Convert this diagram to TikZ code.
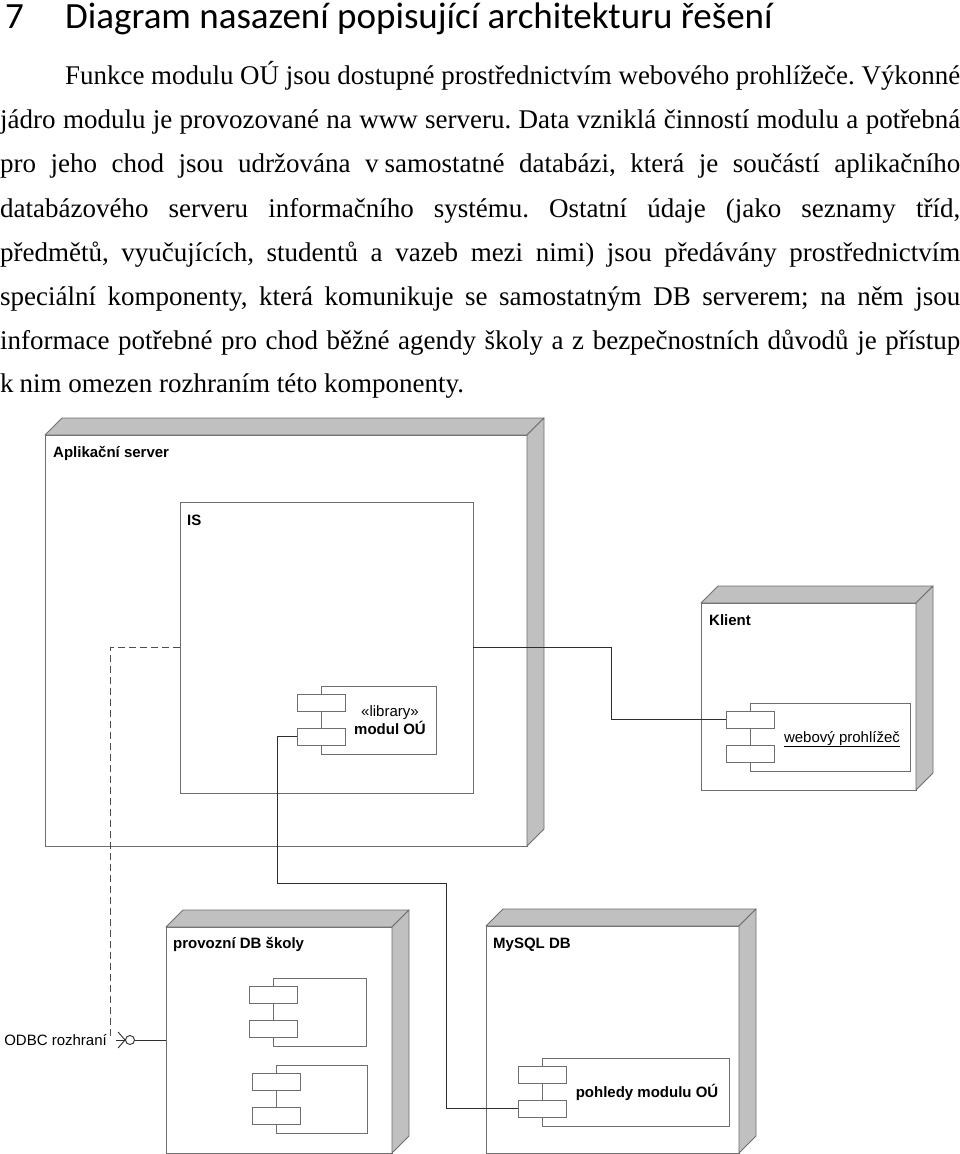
\documentclass[tikz,border=0pt]{standalone}
\usepackage{fontspec}
\usepackage{graphicx}
\setmainfont{Liberation Serif}
\newfontfamily\titlefont{Carlito}
\newfontfamily\diafont{Liberation Sans}
\usetikzlibrary{calc}
\frenchspacing
\definecolor{nodeline}{HTML}{6E6E6E}
\definecolor{sidegray}{HTML}{C0C0C0}
\definecolor{wirecol}{HTML}{2E2E2E}
\newbox\jlbox
\newcommand\jline[2]{%
  \setbox\jlbox=\hbox{#2}%
  \ifdim\wd\jlbox>#1pt\relax
    \pgfmathsetmacro\jlsx{#1/\the\wd\jlbox}%
    \scalebox{\jlsx}[1]{\box\jlbox}%
  \else
    \makebox[#1pt][s]{#2}%
  \fi}
\tikzset{
  box/.style={draw=nodeline, line width=0.9pt, fill=white, inner sep=0pt, outer sep=0pt, anchor=north west},
  cbox/.style={draw=nodeline, line width=0.9pt, fill=white, inner sep=0pt, outer sep=0pt, anchor=north west},
  side/.style={draw=nodeline, line width=0.9pt, fill=sidegray, line join=round},
  wire/.style={draw=wirecol, line width=0.9pt},
  dep/.style={draw=wirecol!85, line width=0.9pt, dash pattern=on 7pt off 4pt},
  nlabel/.style={font=\diafont\fontsize{15}{18}\selectfont\bfseries, anchor=base west, inner sep=0pt},
  clabel/.style={font=\diafont\fontsize{15}{18}\selectfont, anchor=base, inner sep=0pt},
  body/.style={font=\fontsize{27}{32}\selectfont, anchor=base west, inner sep=0pt},
  ttl/.style={font=\titlefont\fontsize{37}{44}\selectfont, anchor=base west, inner sep=0pt},
}
\newcommand\cubenode[5]{%
  \node[box, minimum width=#4pt, minimum height=#5pt] (#1) at (#2,#3) {};
  \path[side] (#1.north west) -- ++(17,-17) -- ($(#1.north east)+(17,-17)$) -- (#1.north east) -- cycle;
  \path[side] (#1.north east) -- ++(17,-17) -- ($(#1.south east)+(17,-17)$) -- (#1.south east) -- cycle;
}
\newcommand\compnode[4]{%
  \node[cbox, minimum width=#4pt, minimum height=68pt] (#1) at (#2,#3) {};
  \node[cbox, minimum width=48pt, minimum height=17pt] (#1-t1) at ($(#2,#3)+(-24,8)$) {};
  \node[cbox, minimum width=48pt, minimum height=17pt] (#1-t2) at ($(#2,#3)+(-24,42)$) {};
}
\begin{document}
\begin{tikzpicture}[x=1pt,y=-1pt]
\useasboundingbox (0,0) rectangle (960,1154);
\fill[white] (0,0) rectangle (960,1154);

% heading
\node[ttl] (num) at (5,28) {7};
\node[ttl] (title) at (65,28) {Diagram nasazení popisující architekturu řešení};

% paragraph
\node[body] (l1) at (65,84) {\jline{895}{Funkce modulu OÚ jsou dostupné prostřednictvím webového prohlížeče. Výkonné}};
\node[body] (l2) at (0,128) {\jline{960}{jádro modulu je provozované na www serveru. Data vzniklá činností modulu a potřebná}};
\node[body] (l3) at (0,172.5) {\jline{960}{pro jeho chod jsou udržována v\kern6pt samostatné databázi, která je součástí aplikačního}};
\node[body] (l4) at (0,217) {\jline{960}{databázového serveru informačního systému. Ostatní údaje (jako seznamy tříd,}};
\node[body] (l5) at (0,261) {\jline{960}{předmětů, vyučujících, studentů a vazeb mezi nimi) jsou předávány prostřednictvím}};
\node[body] (l6) at (0,305) {\jline{960}{speciální komponenty, která komunikuje se samostatným DB serverem; na něm jsou}};
\node[body] (l7) at (0,349) {\jline{960}{informace potřebné pro chod běžné agendy školy a z bezpečnostních důvodů je přístup}};
\node[body] (l8) at (0,392) {k\kern6pt nim omezen rozhraním této komponenty.};

% deployment nodes
\cubenode{as}{45}{435}{482}{411}
\node[nlabel] (asl) at (53,457) {Aplikační server};
\node[box, minimum width=293pt, minimum height=291pt] (is) at (180,502) {};
\node[nlabel] (isl) at (187,525) {IS};
\compnode{modul}{321}{686}{115}
\node[clabel] (modl1) at (390,716) {«library»};
\node[clabel, font=\diafont\fontsize{15}{18}\selectfont\bfseries] (modl2) at (390,734) {modul OÚ};

\cubenode{klient}{701}{603}{215}{187}
\node[nlabel] (klientl) at (709,625) {Klient};
\compnode{web}{750}{703}{160}
\node[clabel] (webl) at (842,742) {\underline{webový prohlížeč}};

\cubenode{prov}{166}{927}{226}{226}
\node[nlabel] (provl) at (173,948) {provozní DB školy};
\compnode{ca}{273}{978}{93}
\compnode{cb}{276}{1065}{91}

\cubenode{mysql}{486}{926}{253}{227}
\node[nlabel] (mysqll) at (493,948) {MySQL DB};
\compnode{pohl}{542}{1058}{187}
\node[clabel, font=\diafont\fontsize{15}{18}\selectfont\bfseries] (pohll) at (647,1097) {pohledy modulu OÚ};

% connectors
\coordinate (c1) at (277,883);
\coordinate (c2) at (446,883);
\draw[wire] (modul-t2.west) -| (c1) -- (c2) |- (pohl-t2.west);
\coordinate (k1) at (611,700);
\draw[wire] (is.east) -- (is.east -| k1) |- (web-t1.west);
\coordinate (d1) at (110,1036);
\draw[dep] (is.west) -| (d1);

% ODBC interface
\node[circle, draw=wirecol, line width=0.9pt, minimum size=9pt, inner sep=0pt, fill=white] (iface) at (130,1040) {};
\draw[wire] (prov.west) -- (iface.east);
\coordinate (sock) at (116,1040);
\draw[wire] (iface.west) -- (sock);
\draw[wire] ($(iface.west)+(-7,-8)$) -- (iface.west) -- ($(iface.west)+(-7,8)$);
\node[anchor=base east, inner sep=0pt, font=\diafont\fontsize{15}{18}\selectfont] (odbc) at (107,1045) {ODBC rozhraní};
\end{tikzpicture}
\end{document}
